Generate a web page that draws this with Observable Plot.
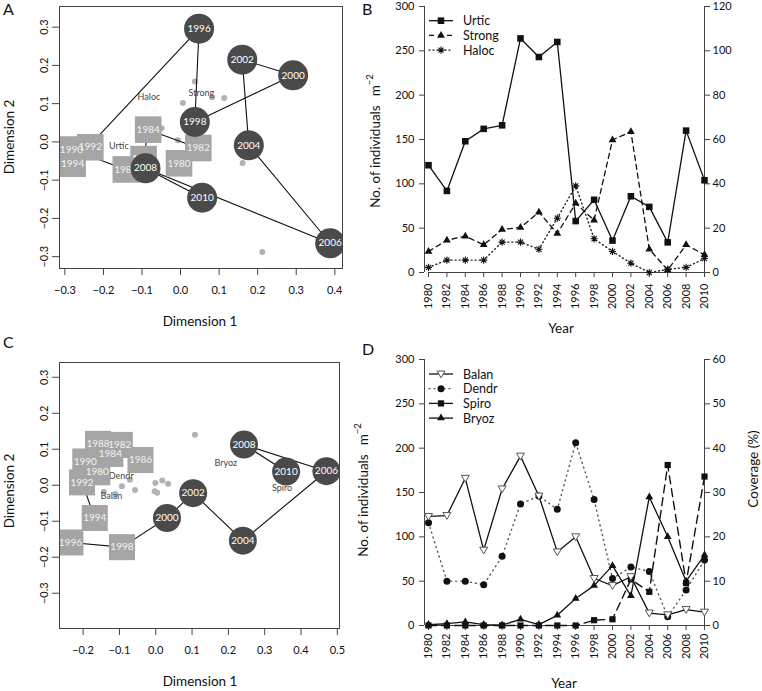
<!DOCTYPE html>
<html><head><meta charset="utf-8">
<script src="https://cdn.jsdelivr.net/npm/d3@7"></script>
<script src="https://cdn.jsdelivr.net/npm/@observablehq/plot@0.6"></script>
<style>
body{margin:0;background:#fff;}
#fig{position:relative;width:762px;height:691px;font-family:Lato,"Open Sans",sans-serif;}
</style></head><body><div id="fig"></div>
<script>
// ---------- shared ----------
const years = [1980,1982,1984,1986,1988,1990,1992,1994,1996,1998,2000,2002,2004,2006,2008,2010];

// ---------- Panel A (ordination, first assemblage) ----------
const dim1A = [-0.004, 0.046, -0.084, -0.096, -0.142, -0.283, -0.234, -0.280, 0.048, 0.037, 0.292, 0.160, 0.177, 0.388, -0.091, 0.056];
const dim2A = [-0.056, -0.016, 0.032, -0.045, -0.072, -0.020, -0.014, -0.057, 0.296, 0.052, 0.174, 0.215, -0.009, -0.265, -0.069, -0.146];
const circleStartA = 1996;
const speciesXA = [0.037, 0.006, 0.082, 0.113, -0.049, -0.007, 0.161, 0.212];
const speciesYA = [0.158, 0.102, 0.117, 0.115, 0.036, 0.004, -0.055, -0.288];
const labelNamesA = ["Haloc", "Strong", "Urtic"];
const labelXA = [-0.082, 0.054, -0.160];
const labelYA = [0.117, 0.127, -0.012];
const ticksXA = [-0.3, -0.2, -0.1, 0, 0.1, 0.2, 0.3, 0.4];
const ticksYA = [-0.3, -0.2, -0.1, 0, 0.1, 0.2, 0.3];

// ---------- Panel B (time series) ----------
const urtic  = [121, 92, 148, 162, 166, 264, 243, 260, 58, 82, 36, 86, 74, 34, 160, 104];
const strong = [9.5, 14.6, 16.4, 12.5, 19.4, 20.3, 27.2, 17.6, 31.2, 23.6, 59.8, 63.5, 10.5, 1.1, 12.5, 8.0];
const haloc  = [2.3, 5.6, 5.6, 5.6, 13.7, 13.7, 10.5, 24.5, 39.1, 15.2, 9.5, 4.2, 0, 1.4, 2.3, 6.3];
const ticksLeftB  = [0, 50, 100, 150, 200, 250, 300];
const ticksRightB = [0, 20, 40, 60, 80, 100, 120];
const seriesNamesB = ["Urtic", "Strong", "Haloc"];

// ---------- Panel C (ordination, second assemblage) ----------
const dim1C = [-0.161, -0.099, -0.125, -0.042, -0.159, -0.194, -0.203, -0.168, -0.235, -0.093, 0.031, 0.103, 0.240, 0.470, 0.243, 0.359];
const dim2C = [0.036, 0.112, 0.087, 0.070, 0.115, 0.066, 0.008, -0.091, -0.159, -0.172, -0.091, -0.022, -0.154, 0.039, 0.113, 0.038];
const circleStartC = 2000;
const speciesXC = [-0.143, -0.111, -0.093, -0.071, -0.057, -0.001, 0.018, 0.034, -0.003, 0.004, 0.108];
const speciesYC = [-0.018, -0.024, -0.003, 0.015, -0.013, 0.006, 0.013, 0.004, -0.017, -0.021, 0.140];
const labelNamesC = ["Dendr", "Balan", "Bryoz", "Spiro"];
const labelXC = [-0.095, -0.122, 0.193, 0.348];
const labelYC = [0.025, -0.031, 0.061, -0.007];
const ticksXC = [-0.2, -0.1, 0, 0.1, 0.2, 0.3, 0.4, 0.5];
const ticksYC = [-0.3, -0.2, -0.1, 0, 0.1, 0.2, 0.3];

// ---------- Panel D (time series) ----------
const balan = [123, 124, 166, 85, 154, 191, 146, 83, 100, 53, 45, 55, 14, 12, 18, 15];
const dendr = [116, 50, 50, 46, 78, 137, 146, 131, 206, 142, 53, 66, 61, 10, 40, 74];
const spiro = [0, 0, 0, 0, 0, 0, 0, 0, 0, 6, 7, 52, 38, 181, 48, 168];
const bryoz = [0.2, 0.4, 0.8, 0.2, 0.1, 1.4, 0.2, 2.3, 6.1, 9.0, 13.5, 6.7, 29, 20, 10, 15.9]; // coverage %
const ticksLeftD  = [0, 50, 100, 150, 200, 250, 300];
const ticksRightD = [0, 10, 20, 30, 40, 50, 60];
const seriesNamesD = ["Balan", "Dendr", "Spiro", "Bryoz"];

// ---------- helpers ----------
const FONT = "Lato, 'Open Sans', sans-serif";
const fig = document.getElementById("fig");
const fmt1 = d3.format(".1f");
const AX = "#444";
const baseStyle = {background: "transparent", overflow: "visible", fontFamily: FONT, fontSize: "11px", color: "#111"};

const asterisk = {draw(ctx, size) {
  const r = Math.sqrt(size / Math.PI);
  for (let a = 0; a < 4; a++) {
    const t = a * Math.PI / 4, dx = r * Math.cos(t), dy = r * Math.sin(t);
    ctx.moveTo(-dx, -dy); ctx.lineTo(dx, dy);
  }
}};
const triangleDown = {draw(ctx, size) {
  const r = Math.sqrt(size / Math.PI);
  ctx.moveTo(-r, -r * 0.75); ctx.lineTo(r, -r * 0.75); ctx.lineTo(0, r * 0.95); ctx.closePath();
}};

function place(el, left, top) {
  el.style.position = "absolute";
  el.style.left = left + "px";
  el.style.top = top + "px";
  fig.appendChild(el);
}

function scatterPanel(o) {
  const pts = years.map((year, i) => ({year, x: o.dim1[i], y: o.dim2[i]}));
  const squares = pts.filter(d => d.year < o.circleStart);
  const circles = pts.filter(d => d.year >= o.circleStart);
  const sp = o.spX.map((x, i) => ({x, y: o.spY[i]}));
  const lab = o.labels.map((t, i) => ({t, x: o.labX[i], y: o.labY[i]}));
  return Plot.plot({
    width: 381, height: o.height,
    marginLeft: o.ml, marginRight: o.mr, marginTop: o.mt, marginBottom: o.mb,
    x: {domain: o.xDomain, label: null}, y: {domain: o.yDomain, label: null},
    style: baseStyle,
    marks: [
      Plot.axisX(o.xTicks, {tickSize: 7, tickPadding: 11, tickFormat: fmt1, stroke: AX, fill: "#111", label: null}),
      Plot.axisY(o.yTicks, {tickSize: 7, tickPadding: 5, tickRotate: -90, tickFormat: fmt1, stroke: AX, fill: "#111", label: null}),
      Plot.dot(sp, {x: "x", y: "y", r: 3, fill: "#b2b2b2", clip: true}),
      Plot.text(lab, {x: "x", y: "y", text: "t", fontSize: 9, fill: "#444"}),
      Plot.line(pts, {x: "x", y: "y", stroke: "#111", strokeWidth: 1.1, clip: true}),
      Plot.dot(squares, {x: "x", y: "y", symbol: "square", r: o.sqR, fill: "#a5a5a5", clip: true}),
      Plot.text(squares, {x: "x", y: "y", text: d => String(d.year), fill: "#f3f3f3", fontSize: 10, clip: true}),
      Plot.dot(circles, {x: "x", y: "y", r: o.cR, fill: "#4a4a4a", clip: true}),
      Plot.text(circles, {x: "x", y: "y", text: d => String(d.year), fill: "#ffffff", fontSize: 10, clip: true}),
      Plot.frame({stroke: AX})
    ]
  });
}

// ---------- Panel A ----------
place(scatterPanel({
  dim1: dim1A, dim2: dim2A, circleStart: circleStartA,
  spX: speciesXA, spY: speciesYA, labels: labelNamesA, labX: labelXA, labY: labelYA,
  xDomain: [-0.314, 0.420], yDomain: [-0.331, 0.354], xTicks: ticksXA, yTicks: ticksYA,
  height: 345, ml: 59, mr: 39, mt: 6, mb: 77, sqR: 15, cR: 15
}), 0, 0);

// ---------- Panel C ----------
place(scatterPanel({
  dim1: dim1C, dim2: dim2C, circleStart: circleStartC,
  spX: speciesXC, spY: speciesYC, labels: labelNamesC, labX: labelXC, labY: labelYC,
  xDomain: [-0.265, 0.506], yDomain: [-0.398, 0.341], xTicks: ticksXC, yTicks: ticksYC,
  height: 346, ml: 59, mr: 42, mt: 17, mb: 63, sqR: 14.7, cR: 14
}), 0, 345);

// ---------- Panel B ----------
const kB = ticksLeftB.at(-1) / ticksRightB.at(-1);
const rowsB = years.map((year, i) => ({year, urtic: urtic[i], strong: strong[i] * kB, haloc: haloc[i] * kB}));
const axisCommon = (ticksL, ticksR, k, dxL) => [
  Plot.ruleX([years[0]], {y1: ticksL[0], y2: ticksL.at(-1), dx: dxL, stroke: AX}),
  Plot.ruleX([years.at(-1)], {y1: ticksL[0], y2: ticksL.at(-1), stroke: AX}),
  Plot.ruleY([ticksL[0]], {x1: years[0], x2: years.at(-1), stroke: AX}),
  Plot.axisY(ticksL, {anchor: "left", tickSize: 5, tickPadding: 5, dx: dxL, stroke: AX, fill: "#111", label: null}),
  Plot.axisY(ticksR.map(v => v * k), {anchor: "right", tickFormat: d => String(Math.round(d / k)), tickSize: 5, tickPadding: 3, stroke: AX, fill: "#111", label: null})
];
place(Plot.plot({
  width: 381, height: 345, marginLeft: 47, marginRight: 58, marginTop: 6, marginBottom: 73,
  x: {domain: [years[0], years.at(-1)], label: null}, y: {domain: [ticksLeftB[0], ticksLeftB.at(-1)], label: null},
  style: baseStyle,
  marks: [
    ...axisCommon(ticksLeftB, ticksRightB, kB, -4),
    Plot.axisX(years, {tickRotate: -90, tickSize: 5, tickPadding: 6, tickFormat: d => String(d), stroke: AX, fill: "#111", label: null}),
    Plot.line(rowsB, {x: "year", y: "haloc", stroke: "#222", strokeWidth: 1.4, strokeDasharray: "1,3", strokeLinecap: "round"}),
    Plot.line(rowsB, {x: "year", y: "strong", stroke: "#111", strokeWidth: 1.3, strokeDasharray: "5,4"}),
    Plot.line(rowsB, {x: "year", y: "urtic", stroke: "#111", strokeWidth: 1.3}),
    Plot.dot(rowsB, {x: "year", y: "haloc", symbol: asterisk, r: 3.6, stroke: "#111", strokeWidth: 1.1, fill: "none"}),
    Plot.dot(rowsB, {x: "year", y: "strong", symbol: "triangle", r: 2.9, fill: "#111"}),
    Plot.dot(rowsB, {x: "year", y: "urtic", symbol: "square", r: 3.7, fill: "#111"})
  ]
}), 381, 0);

// ---------- Panel D ----------
const kD = ticksLeftD.at(-1) / ticksRightD.at(-1);
const rowsD = years.map((year, i) => ({year, balan: balan[i], dendr: dendr[i], spiro: spiro[i], bryoz: bryoz[i] * kD}));
place(Plot.plot({
  width: 381, height: 346, marginLeft: 47, marginRight: 58, marginTop: 14, marginBottom: 66,
  x: {domain: [years[0], years.at(-1)], label: null}, y: {domain: [ticksLeftD[0], ticksLeftD.at(-1)], label: null},
  style: baseStyle,
  marks: [
    ...axisCommon(ticksLeftD, ticksRightD, kD, -4),
    Plot.axisX(years, {tickRotate: -90, tickSize: 5, tickPadding: 3, tickFormat: d => String(d), stroke: AX, fill: "#111", label: null}),
    Plot.line(rowsD, {x: "year", y: "dendr", stroke: "#555", strokeWidth: 1.4, strokeDasharray: "1,4", strokeLinecap: "round"}),
    Plot.line(rowsD, {x: "year", y: "spiro", stroke: "#111", strokeWidth: 1.4, strokeDasharray: "8,5"}),
    Plot.line(rowsD, {x: "year", y: "bryoz", stroke: "#111", strokeWidth: 1.3}),
    Plot.line(rowsD, {x: "year", y: "balan", stroke: "#111", strokeWidth: 1.3}),
    Plot.dot(rowsD, {x: "year", y: "dendr", r: 3.5, fill: "#111"}),
    Plot.dot(rowsD, {x: "year", y: "spiro", symbol: "square", r: 3.5, fill: "#111"}),
    Plot.dot(rowsD, {x: "year", y: "bryoz", symbol: "triangle", r: 2.9, fill: "#111"}),
    Plot.dot(rowsD, {x: "year", y: "balan", symbol: triangleDown, r: 4, fill: "#fff", stroke: "#555", strokeWidth: 1})
  ]
}), 381, 345);

// ---------- overlay: panel letters, axis titles, legends ----------
const ov = d3.select(fig).append("svg")
  .attr("width", 762).attr("height", 691)
  .style("position", "absolute").style("left", "0px").style("top", "0px")
  .style("pointer-events", "none")
  .attr("font-family", FONT).attr("fill", "#111");

[["A", 3, 15], ["B", 362, 15], ["C", 3, 348], ["D", 362, 355]].forEach(([t, x, y]) =>
  ov.append("text").attr("x", x).attr("y", y).attr("font-size", 16).text(t));

function title(t, x, y, rot) {
  return ov.append("text").attr("transform", `translate(${x},${y}) rotate(${rot || 0})`)
    .attr("text-anchor", "middle").attr("dominant-baseline", "central").attr("font-size", 13.5).text(t);
}
title("Dimension 2", 9, 137, -90);
title("Dimension 1", 200, 321);
title("Dimension 2", 9, 491, -90);
title("Dimension 1", 200, 681);
title("Year", 561, 328);
title("Year", 564, 683);
title("Coverage (%)", 753, 469, -90);
function indTitle(x, y) {
  const t = ov.append("text").attr("transform", `translate(${x},${y}) rotate(-90)`)
    .attr("text-anchor", "middle").attr("dominant-baseline", "central").attr("font-size", 13.5);
  t.append("tspan").text("No. of individuals");
  t.append("tspan").attr("dx", 9).text("m");
  t.append("tspan").attr("dy", -6).attr("font-size", 9.5).text("−2");
}
indTitle(375, 141);
indTitle(363, 490);

function legend(y0, step, entries) {
  entries.forEach((e, i) => {
    const y = y0 + i * step;
    ov.append("line").attr("x1", 429).attr("x2", 453).attr("y1", y).attr("y2", y)
      .attr("stroke", e.lineColor || "#111").attr("stroke-width", 1.3)
      .attr("stroke-dasharray", e.dash || null).attr("stroke-linecap", e.cap || null);
    ov.append("path").attr("transform", `translate(441,${y})`)
      .attr("d", d3.symbol(e.symbol, Math.PI * e.r * e.r)())
      .attr("fill", e.fill).attr("stroke", e.stroke || "none").attr("stroke-width", e.sw || 1);
    ov.append("text").attr("x", 463).attr("y", y).attr("dominant-baseline", "central")
      .attr("font-size", 12.5).text(e.name);
  });
}
legend(20.7, 14.7, [
  {name: seriesNamesB[0], symbol: d3.symbolSquare, r: 3.7, fill: "#111"},
  {name: seriesNamesB[1], symbol: d3.symbolTriangle, r: 2.9, fill: "#111", dash: "5,4"},
  {name: seriesNamesB[2], symbol: asterisk, r: 3.6, fill: "none", stroke: "#111", sw: 1.1, dash: "1,3", cap: "round"}
]);
legend(374, 14.7, [
  {name: seriesNamesD[0], symbol: triangleDown, r: 4, fill: "#fff", stroke: "#555"},
  {name: seriesNamesD[1], symbol: d3.symbolCircle, r: 3.5, fill: "#111", dash: "1,4", cap: "round", lineColor: "#555"},
  {name: seriesNamesD[2], symbol: d3.symbolSquare, r: 3.5, fill: "#111"},
  {name: seriesNamesD[3], symbol: d3.symbolTriangle, r: 2.9, fill: "#111"}
]);
</script></body></html>
